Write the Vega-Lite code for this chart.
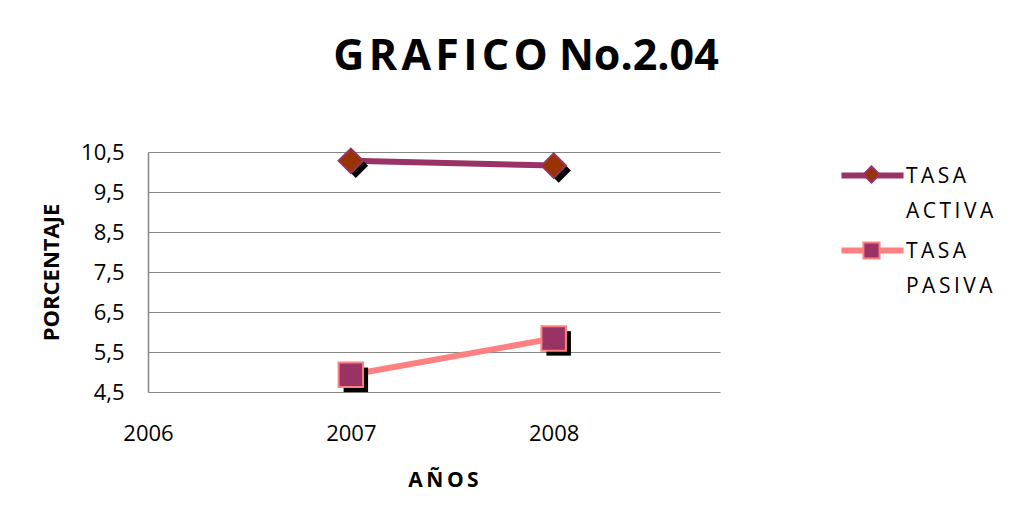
{
  "$schema": "https://vega.github.io/schema/vega-lite/v6.json",
  "autosize": "none",
  "width": 572,
  "height": 240,
  "padding": {"left": 148, "top": 152, "right": 314, "bottom": 126},
  "background": "white",
  "title": {
    "text": "G\u200aR\u200aA\u200aF\u200aI\u200aC\u200aO No.2.04",
    "font": "Open Sans",
    "fontSize": 43,
    "fontWeight": "bold",
    "color": "black",
    "anchor": "middle",
    "dx": 92,
    "offset": 62
  },
  "data": {
    "values": [
      {"anio": 2007, "tasa": 10.28, "serie": "T\u2009A\u2009S\u2009A A\u2009C\u2009T\u2009I\u2009V\u2009A", "marcador": "ACTIVA"},
      {"anio": 2008, "tasa": 10.16, "serie": "T\u2009A\u2009S\u2009A A\u2009C\u2009T\u2009I\u2009V\u2009A", "marcador": "ACTIVA"},
      {"anio": 2007, "tasa": 4.93, "serie": "T\u2009A\u2009S\u2009A P\u2009A\u2009S\u2009I\u2009V\u2009A", "marcador": "PASIVA"},
      {"anio": 2008, "tasa": 5.84, "serie": "T\u2009A\u2009S\u2009A P\u2009A\u2009S\u2009I\u2009V\u2009A", "marcador": "PASIVA"}
    ]
  },
  "encoding": {
    "x": {
      "field": "anio",
      "type": "quantitative",
      "scale": {"domain": [2006, 2008.82], "nice": false, "zero": false},
      "axis": {
        "values": [2006, 2007, 2008],
        "format": "d",
        "grid": false,
        "ticks": false,
        "domain": false,
        "labelFlush": false,
        "labelFont": "Open Sans",
        "labelFontSize": 22,
        "labelColor": "black",
        "labelPadding": 31,
        "title": "A\u2009Ñ\u2009O\u2009S",
        "titleFont": "Open Sans",
        "titleFontSize": 21,
        "titleFontWeight": "bold",
        "titleColor": "black",
        "titlePadding": 25,
        "titleX": 295
      }
    },
    "y": {
      "field": "tasa",
      "type": "quantitative",
      "scale": {"domain": [4.5, 10.5], "nice": false, "zero": false},
      "axis": {
        "values": [4.5, 5.5, 6.5, 7.5, 8.5, 9.5, 10.5],
        "labelExpr": "replace(format(datum.value, '.1f'), '.', ',')",
        "grid": true,
        "gridColor": "#868686",
        "gridWidth": 1,
        "gridOpacity": 1,
        "ticks": false,
        "domainColor": "#868686",
        "domainWidth": 1.5,
        "labelFont": "Open Sans",
        "labelFontSize": 22,
        "labelColor": "black",
        "labelPadding": 24,
        "title": "PORCENTAJE",
        "titleFont": "Open Sans",
        "titleFontSize": 22,
        "titleFontWeight": "bold",
        "titleColor": "black",
        "titlePadding": 17
      }
    }
  },
  "layer": [
    {
      "mark": {"type": "line", "strokeWidth": 6, "strokeCap": "round"},
      "encoding": {
        "color": {
          "field": "serie",
          "type": "nominal",
          "scale": {"domain": ["T\u2009A\u2009S\u2009A A\u2009C\u2009T\u2009I\u2009V\u2009A", "T\u2009A\u2009S\u2009A P\u2009A\u2009S\u2009I\u2009V\u2009A"], "range": ["#993366", "#FF8080"]},
          "legend": {
            "title": null,
            "orient": "none",
            "legendX": 713,
            "legendY": 2.5,
            "symbolType": "M-3.85,1.18H3.85",
            "symbolSize": 260,
            "symbolStrokeWidth": 6,
            "labelFont": "Open Sans",
            "labelFontSize": 21,
            "labelColor": "black",
            "labelOffset": 22,
            "labelBaseline": "top",
            "labelLimit": 300,
            "labelExpr": "split(datum.label, ' ')",
            "rowPadding": 7,
            "padding": 0
          }
        }
      }
    },
    {
      "mark": {"type": "point", "filled": true, "fill": "black", "opacity": 1, "size": 600, "xOffset": 5, "yOffset": 5, "strokeWidth": 0},
      "encoding": {
        "shape": {"field": "marcador", "type": "nominal"}
      }
    },
    {
      "mark": {"type": "point", "filled": true, "opacity": 1, "size": 600, "strokeWidth": 2},
      "encoding": {
        "shape": {
          "field": "marcador",
          "type": "nominal",
          "scale": {"domain": ["ACTIVA", "PASIVA"], "range": ["diamond", "square"]},
          "legend": {
            "title": null,
            "orient": "none",
            "legendX": 713,
            "legendY": 12,
            "symbolSize": 260,
            "symbolStrokeWidth": 2,
            "labelOpacity": 0,
            "labelFont": "Open Sans",
            "labelFontSize": 21,
            "labelBaseline": "top",
            "labelExpr": "['X','Y']",
            "rowPadding": 7,
            "padding": 0
          }
        },
        "fill": {
          "field": "marcador",
          "type": "nominal",
          "scale": {"domain": ["ACTIVA", "PASIVA"], "range": ["#993300", "#993366"]}
        },
        "stroke": {
          "field": "marcador",
          "type": "nominal",
          "scale": {"domain": ["ACTIVA", "PASIVA"], "range": ["#993366", "#FF8080"]}
        }
      }
    }
  ],
  "config": {
    "view": {"stroke": null},
    "style": {"guide-label": {"lineHeight": 35}}
  }
}
